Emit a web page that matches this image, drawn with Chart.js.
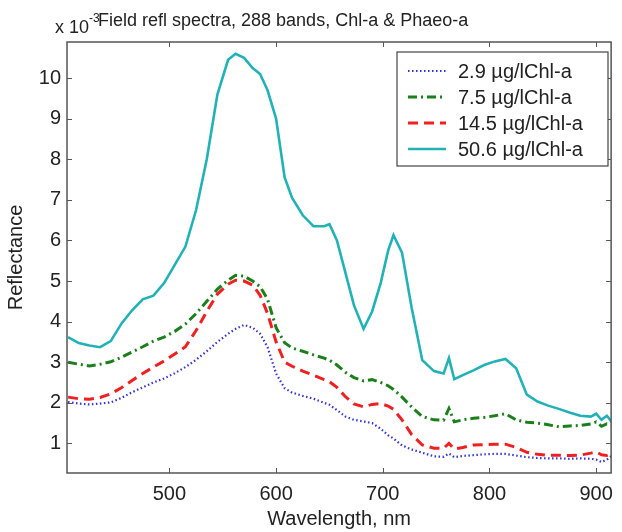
<!DOCTYPE html>
<html>
<head>
<meta charset="utf-8">
<script src="https://cdn.jsdelivr.net/npm/chart.js@4/dist/chart.umd.min.js"></script>
<style>
  html, body { margin: 0; padding: 0; background: #fff; }
  #wrap { width: 622px; height: 532px; }
</style>
</head>
<body>
<div id="wrap"><canvas id="chart" width="622" height="532"></canvas></div>
<script>
// wavelength samples (nm), shared by every series
var wavelengths = [405, 415, 425, 435, 445, 455, 465, 475, 485, 495, 505, 515, 525, 535, 545, 555, 562, 570, 578, 585,
  592, 600, 608, 615, 625, 635, 645, 650, 657, 665, 673, 682, 690, 698, 705, 710, 718, 727, 737, 748,
  757, 762, 767, 775, 785, 795, 805, 815, 825, 835, 845, 855, 865, 875, 885, 895, 900, 905, 910, 915];

// reflectance, x 10^-3
var chl29 = [2.02, 1.98, 1.96, 1.98, 2.01, 2.12, 2.26, 2.38, 2.50, 2.60, 2.73, 2.88, 3.06, 3.27, 3.50, 3.70, 3.82, 3.92, 3.85, 3.70,
  3.37, 2.72, 2.36, 2.25, 2.17, 2.10, 2.00, 1.95, 1.82, 1.66, 1.58, 1.54, 1.50, 1.36, 1.20, 1.12, 0.95, 0.85, 0.77, 0.68,
  0.67, 0.75, 0.66, 0.69, 0.71, 0.73, 0.74, 0.74, 0.70, 0.66, 0.64, 0.63, 0.63, 0.62, 0.63, 0.62, 0.60, 0.54, 0.60, 0.70];
var chl75 = [3.00, 2.95, 2.91, 2.95, 3.01, 3.12, 3.25, 3.38, 3.52, 3.62, 3.76, 3.94, 4.20, 4.50, 4.80, 5.02, 5.14, 5.12, 5.00, 4.86,
  4.55, 3.85, 3.48, 3.35, 3.27, 3.18, 3.10, 3.05, 2.93, 2.75, 2.62, 2.54, 2.57, 2.50, 2.42, 2.33, 2.14, 1.90, 1.66, 1.58,
  1.57, 1.86, 1.53, 1.58, 1.62, 1.64, 1.68, 1.73, 1.58, 1.52, 1.50, 1.46, 1.41, 1.43, 1.44, 1.48, 1.53, 1.42, 1.48, 1.45];
var chl145 = [2.14, 2.10, 2.09, 2.13, 2.22, 2.37, 2.55, 2.72, 2.88, 3.03, 3.20, 3.38, 3.78, 4.25, 4.68, 4.92, 5.02, 5.00, 4.90, 4.65,
  4.20, 3.50, 3.00, 2.90, 2.78, 2.68, 2.57, 2.52, 2.38, 2.15, 1.97, 1.90, 1.96, 1.98, 1.92, 1.84, 1.58, 1.22, 0.96, 0.88,
  0.88, 1.00, 0.86, 0.90, 0.96, 0.97, 0.98, 0.98, 0.90, 0.78, 0.73, 0.71, 0.71, 0.70, 0.71, 0.76, 0.79, 0.72, 0.70, 0.75];
var chl506 = [3.62, 3.47, 3.41, 3.37, 3.52, 3.95, 4.28, 4.55, 4.64, 4.95, 5.40, 5.85, 6.75, 8.00, 9.60, 10.45, 10.60, 10.50, 10.25, 10.10,
  9.70, 9.00, 7.55, 7.05, 6.62, 6.35, 6.35, 6.40, 6.00, 5.20, 4.40, 3.82, 4.25, 4.95, 5.75, 6.13, 5.70, 4.35, 3.05, 2.78,
  2.72, 3.10, 2.58, 2.68, 2.80, 2.93, 3.02, 3.08, 2.85, 2.20, 2.03, 1.93, 1.85, 1.76, 1.68, 1.66, 1.73, 1.58, 1.68, 1.52];

var seriesNames = ['2.9 \u00b5g/lChl-a', '7.5 \u00b5g/lChl-a', '14.5 \u00b5g/lChl-a', '50.6 \u00b5g/lChl-a'];
var xTicks = [500, 600, 700, 800, 900];
var yTicks = [1, 2, 3, 4, 5, 6, 7, 8, 9, 10];

function pts(vals) {
  return wavelengths.map(function(w, i) { return { x: w, y: vals[i] }; });
}

var FONT = "'Liberation Sans', Arial, Helvetica, sans-serif";

// box frame with inward ticks, matlab style
var framePlugin = {
  id: 'frame',
  afterDraw: function(chart) {
    var ctx = chart.ctx, a = chart.chartArea;
    var xs = chart.scales.x, ys = chart.scales.y;
    ctx.save();
    ctx.strokeStyle = '#555';
    ctx.lineWidth = 1.5;
    ctx.strokeRect(a.left, a.top, a.right - a.left, a.bottom - a.top);
    ctx.lineWidth = 1;
    ctx.beginPath();
    xTicks.forEach(function(v) {
      var px = Math.round(xs.getPixelForValue(v)) + 0.5;
      ctx.moveTo(px, a.bottom); ctx.lineTo(px, a.bottom - 5);
      ctx.moveTo(px, a.top); ctx.lineTo(px, a.top + 5);
    });
    yTicks.forEach(function(v) {
      var py = Math.round(ys.getPixelForValue(v)) + 0.5;
      ctx.moveTo(a.left, py); ctx.lineTo(a.left + 5, py);
      ctx.moveTo(a.right, py); ctx.lineTo(a.right - 5, py);
    });
    ctx.stroke();

    // title with the exponent label in front of it
    ctx.fillStyle = '#222';
    ctx.textBaseline = 'alphabetic';
    ctx.textAlign = 'left';
    ctx.font = '18px ' + FONT;
    ctx.fillText('x 10', 55, 33);
    ctx.font = '12px ' + FONT;
    ctx.fillText('-3', 89, 22);
    ctx.font = '18px ' + FONT;
    ctx.fillText('Field refl spectra, 288 bands, Chl-a & Phaeo-a', 98, 26);

    // legend box
    var lx = 397, ly = 52, lw = 211, lh = 114;
    ctx.fillStyle = '#fff';
    ctx.fillRect(lx, ly, lw, lh);
    ctx.strokeStyle = '#444';
    ctx.lineWidth = 1.2;
    ctx.strokeRect(lx, ly, lw, lh);
    var rows = [71, 97, 123, 149];
    chart.data.datasets.forEach(function(ds, i) {
      ctx.save();
      ctx.strokeStyle = ds.borderColor;
      ctx.lineWidth = ds.borderWidth;
      ctx.setLineDash(ds.borderDash || []);
      ctx.beginPath();
      ctx.moveTo(408, rows[i]);
      ctx.lineTo(446, rows[i]);
      ctx.stroke();
      ctx.restore();
      ctx.fillStyle = '#222';
      ctx.font = '20px ' + FONT;
      ctx.textBaseline = 'middle';
      ctx.fillText(ds.label, 458, rows[i] + 1);
    });
    ctx.restore();
  }
};

new Chart(document.getElementById('chart'), {
  type: 'line',
  data: {
    datasets: [
      { label: seriesNames[0], data: pts(chl29), borderColor: '#3434d4', borderWidth: 2.2, borderDash: [1.5, 2.5] },
      { label: seriesNames[1], data: pts(chl75), borderColor: '#1b7f1b', borderWidth: 3, borderDash: [9, 4, 2, 4] },
      { label: seriesNames[2], data: pts(chl145), borderColor: '#f02020', borderWidth: 3, borderDash: [10, 6] },
      { label: seriesNames[3], data: pts(chl506), borderColor: '#22b2b6', borderWidth: 2.6 }
    ]
  },
  options: {
    responsive: false,
    animation: false,
    events: [],
    layout: { padding: { top: 42, right: 5, left: 0, bottom: 0 } },
    elements: { point: { radius: 0 }, line: { tension: 0, fill: false, borderCapStyle: 'butt' } },
    plugins: { legend: { display: false }, tooltip: { enabled: false } },
    scales: {
      x: {
        type: 'linear',
        min: 404,
        max: 914,
        grid: { display: false, drawTicks: false },
        border: { display: false },
        afterBuildTicks: function(s) { s.ticks = xTicks.map(function(v) { return { value: v }; }); },
        afterFit: function(s) { s.height = 59; },
        ticks: { padding: 9, color: '#222', font: { family: FONT, size: 20 } },
        title: { display: true, text: 'Wavelength, nm', color: '#222', padding: { top: 0, bottom: 1 }, font: { family: FONT, size: 20 } }
      },
      y: {
        min: 0.27,
        max: 10.89,
        grid: { display: false, drawTicks: false },
        border: { display: false },
        afterBuildTicks: function(s) { s.ticks = yTicks.map(function(v) { return { value: v }; }); },
        afterFit: function(s) { s.width = 67; },
        ticks: { padding: 6, color: '#222', font: { family: FONT, size: 20 } },
        title: { display: true, text: 'Reflectance', color: '#222', padding: { top: 4, bottom: 0 }, font: { family: FONT, size: 20 } }
      }
    }
  },
  plugins: [framePlugin]
});
</script>
</body>
</html>
